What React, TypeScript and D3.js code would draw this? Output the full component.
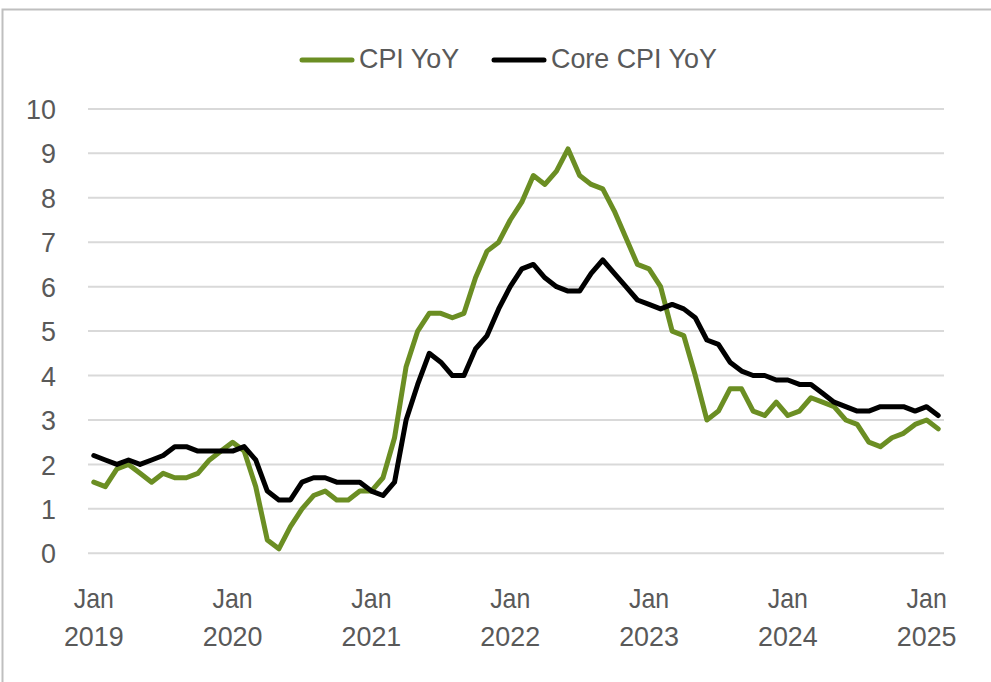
import React from "react";
import * as d3 from "d3";

const startYear = 2019;
const months = d3.range(74).map((i) => new Date(startYear, i, 1));

const cpiYoY = [
  1.6, 1.5, 1.9, 2.0, 1.8, 1.6, 1.8, 1.7, 1.7, 1.8, 2.1, 2.3,
  2.5, 2.3, 1.5, 0.3, 0.1, 0.6, 1.0, 1.3, 1.4, 1.2, 1.2, 1.4,
  1.4, 1.7, 2.6, 4.2, 5.0, 5.4, 5.4, 5.3, 5.4, 6.2, 6.8, 7.0,
  7.5, 7.9, 8.5, 8.3, 8.6, 9.1, 8.5, 8.3, 8.2, 7.7, 7.1, 6.5,
  6.4, 6.0, 5.0, 4.9, 4.0, 3.0, 3.2, 3.7, 3.7, 3.2, 3.1, 3.4,
  3.1, 3.2, 3.5, 3.4, 3.3, 3.0, 2.9, 2.5, 2.4, 2.6, 2.7, 2.9,
  3.0, 2.8,
];

const coreCpiYoY = [
  2.2, 2.1, 2.0, 2.1, 2.0, 2.1, 2.2, 2.4, 2.4, 2.3, 2.3, 2.3,
  2.3, 2.4, 2.1, 1.4, 1.2, 1.2, 1.6, 1.7, 1.7, 1.6, 1.6, 1.6,
  1.4, 1.3, 1.6, 3.0, 3.8, 4.5, 4.3, 4.0, 4.0, 4.6, 4.9, 5.5,
  6.0, 6.4, 6.5, 6.2, 6.0, 5.9, 5.9, 6.3, 6.6, 6.3, 6.0, 5.7,
  5.6, 5.5, 5.6, 5.5, 5.3, 4.8, 4.7, 4.3, 4.1, 4.0, 4.0, 3.9,
  3.9, 3.8, 3.8, 3.6, 3.4, 3.3, 3.2, 3.2, 3.3, 3.3, 3.3, 3.2,
  3.3, 3.1,
];

const yTicks = [0, 1, 2, 3, 4, 5, 6, 7, 8, 9, 10];
const xTickYears = ["2019", "2020", "2021", "2022", "2023", "2024", "2025"];

const seriesNames = ["CPI YoY", "Core CPI YoY"];
const seriesColors = ["#6B8E23", "#000000"];

const FONT = "'Liberation Sans', Arial, sans-serif";
const TEXT = "#595959";

function Label(props: { x: number; y: number; anchor?: string; sx?: number; children: React.ReactNode }) {
  return (
    <text
      transform={`translate(${props.x},${props.y}) scale(${props.sx ?? 0.96},1)`}
      dy="0.36em"
      textAnchor={props.anchor || "start"}
      fontSize={28}
      fill={TEXT}
    >
      {props.children}
    </text>
  );
}

export default function App() {
  const W = 991;
  const H = 682;
  const x = d3
    .scalePoint<number>()
    .domain(months.map((_, i) => i))
    .range([88, 944])
    .padding(0.5);
  const y = d3.scaleLinear().domain([0, 10]).range([553.3, 108.9]);

  const line = d3
    .line<number>()
    .x((_, i) => x(i) as number)
    .y((d) => y(d));

  const series = [cpiYoY, coreCpiYoY];
  const legendX = [300, 492];

  return (
    <svg
      width={W}
      height={H}
      style={{ position: "absolute", left: 0, top: 0, background: "#fff" }}
      fontFamily={FONT}
    >
      <rect x={2.5} y={9.5} width={1100} height={800} fill="#fff" stroke="#BFBFBF" strokeWidth={2} />
      {yTicks.map((t) => (
        <g key={t}>
          <line x1={88} x2={944} y1={y(t)} y2={y(t)} stroke="#D9D9D9" strokeWidth={2} />
          <Label x={56} y={y(t)} anchor="end">
            {t}
          </Label>
        </g>
      ))}
      {xTickYears.map((yr, k) => {
        const cx = x(k * 12) as number;
        return (
          <g key={yr}>
            <Label x={cx} y={598} anchor="middle" sx={0.89}>
              Jan
            </Label>
            <Label x={cx} y={636} anchor="middle">
              {yr}
            </Label>
          </g>
        );
      })}
      {series.map((s, k) => (
        <path
          key={k}
          d={line(s) || ""}
          fill="none"
          stroke={seriesColors[k]}
          strokeWidth={5}
          strokeLinejoin="round"
          strokeLinecap="round"
        />
      ))}
      {seriesNames.map((n, k) => (
        <g key={n}>
          <line
            x1={legendX[k] + 2}
            x2={legendX[k] + 52}
            y1={60}
            y2={60}
            stroke={seriesColors[k]}
            strokeWidth={5}
            strokeLinecap="round"
          />
          <Label x={legendX[k] + 59} y={58}>
            {n}
          </Label>
        </g>
      ))}
    </svg>
  );
}
